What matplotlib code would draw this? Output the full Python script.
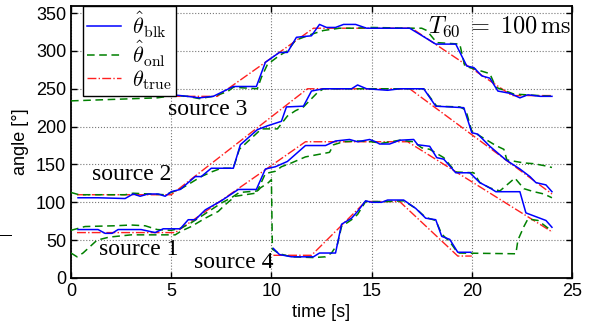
import matplotlib
matplotlib.use('Agg')
import matplotlib.pyplot as plt
from matplotlib.patches import Rectangle

plt.rcParams['font.family'] = ['Liberation Sans', 'DejaVu Sans']
plt.rcParams['mathtext.fontset'] = 'cm'

# block estimate (blue)
t_blk1 = [0.35, 1.35, 1.7, 2.05, 2.35, 3.5, 4.2, 4.6, 5.45, 5.85, 6.2, 6.7, 7.5, 8.35, 9.25, 9.7, 10.2, 10.8, 11.7,
          12.7, 13.2, 13.9, 14.3, 14.9, 15.2, 15.4, 15.9, 16.4, 17.1, 17.3, 17.9, 18.25, 18.6, 19.2, 19.9, 20.4, 20.9,
          21.2, 22.4, 22.7, 23.2, 23.7, 24.0]
v_blk1 = [64, 64, 59, 59, 64, 64, 60, 65, 65, 77, 77, 90, 102, 117, 117, 144, 147, 154, 175,
          175, 181, 183, 180, 183, 180, 177, 177, 182, 183, 176, 174, 159, 157, 139, 139, 126, 119,
          114, 114, 86, 81, 76, 67]

t_blk2 = [0.35, 1.35, 2.7, 3.1, 3.45, 3.85, 4.35, 4.7, 5.0, 5.45, 6.2, 6.5, 7.0, 8.1, 8.45, 9.3, 9.8, 10.5, 10.75,
          11.6, 12.0, 12.6, 14.0, 14.3, 14.75, 15.8, 16.4, 17.6, 18.2, 19.6, 20.0, 20.3, 20.9, 21.7, 22.4, 22.9,
          23.2, 23.7, 24.0]
v_blk2 = [106, 106, 105, 111, 108, 111, 111, 108, 114, 117, 134, 134, 145, 145, 176, 196, 201, 207, 226,
          227, 247, 250, 250, 255, 250, 248, 250, 250, 227, 225, 192, 190, 174, 156, 144, 134,
          126, 123, 114]

t_blk3 = [4.3, 5.1, 5.8, 6.4, 7.1, 8.1, 9.25, 9.7, 10.4, 10.8, 11.25, 12.0, 12.4, 12.75, 13.2, 13.6, 14.2, 14.75,
          16.9, 17.4, 18.2, 19.2, 19.75, 20.1, 20.5, 20.9, 21.3, 21.9, 22.4, 22.8, 23.4, 24.0]
v_blk3 = [240, 242, 240, 238, 240, 253, 253, 285, 298, 298, 318, 320, 335, 331, 331, 335, 335, 330,
          330, 322, 309, 309, 280, 278, 267, 264, 247, 244, 238, 242, 240, 240]

t_blk4 = [10.1, 10.4, 11.0, 12.1, 12.4, 13.2, 13.5, 14.0, 14.3, 14.7, 15.0, 15.5, 15.8, 16.6, 17.2, 17.7, 18.2,
          18.5, 18.9, 19.3, 19.95]
v_blk4 = [39, 31, 28, 28, 33, 33, 71, 79, 88, 102, 100, 100, 103, 103, 92, 79, 77, 55, 51, 34, 34]

# online estimate (green)
t_onl1 = [0, 4.3, 5.1, 5.8, 6.4, 7.1, 7.8, 8.1, 9.3, 9.5, 9.8, 10.4, 10.8, 11.2, 12.0, 12.6, 13.4, 14.2, 15.0,
          16.9, 17.5, 17.75, 18.25, 19.4, 19.65, 20.4, 20.9, 21.2, 22.1, 24.0]
v_onl1 = [234, 238, 241, 240, 237, 240, 246, 252, 250, 265, 282, 294, 300, 314, 322, 327, 330, 330, 331,
          330, 330, 327, 311, 309, 280, 274, 270, 252, 243, 240]

t_onl2 = [0, 0.4, 2.7, 3.1, 4.7, 5.0, 5.5, 6.0, 6.5, 7.0, 7.5, 8.1, 8.4, 9.3, 9.5, 10.3, 10.8, 11.2, 11.6, 12.3,
          12.6, 14.0, 15.8, 17.6, 18.25, 19.4, 19.7, 20.0, 20.7, 21.2, 21.6, 21.75, 22.6, 23.1, 23.7, 24.0]
v_onl2 = [113, 110, 110, 112, 110, 113, 118, 126, 134, 140, 145, 145, 170, 192, 197, 197, 214, 221, 226, 245,
          250, 250, 250, 250, 227, 226, 222, 194, 183, 175, 170, 156, 152, 151, 148, 146]

t_onl3 = [0, 0.7, 2.2, 3.0, 3.7, 4.3, 5.0, 5.5, 6.0, 6.7, 7.5, 8.0, 8.4, 9.3, 9.7, 10.2, 10.5, 11.0, 11.7, 12.3,
          12.9, 13.1, 13.6, 14.3, 15.0, 15.5, 16.4, 17.1, 17.5, 17.9, 18.6, 19.2, 20.1, 20.4, 20.9, 21.4, 22.15,
          22.6, 23.1, 23.6, 24.0]
v_onl3 = [63, 68, 69, 70, 69, 64, 63, 66, 73, 85, 99, 106, 113, 115, 138, 141, 147, 152, 160, 163,
          166, 176, 180, 181, 180, 178, 182, 180, 172, 170, 159, 140, 139, 126, 119, 115, 132,
          118, 114, 111, 106]

t_onl4 = [0, 0.3, 0.6, 1.3, 1.9, 3.0, 4.0, 5.2, 5.5, 6.0, 6.7, 7.35, 7.7, 8.2, 9.2, 9.45, 9.85, 10.0, 10.05,
          10.4, 11.0, 12.1, 12.7, 13.0, 13.3, 13.5, 14.0, 14.3, 14.7, 15.7, 16.6, 17.2, 17.7, 18.2, 18.5, 18.9,
          19.3, 22.2, 22.3, 22.6, 22.8, 23.3, 24.0]
v_onl4 = [33, 28, 33, 50, 54, 57, 57, 57, 62, 68, 79, 88, 97, 108, 112, 119, 126, 130, 38,
          32, 28, 27, 28, 33, 45, 68, 77, 84, 101, 101, 102, 92, 80, 76, 58, 48,
          33, 32, 50, 68, 78, 76, 62]

# ground truth (red)
t_true1 = [0.3, 5.2, 11.7, 16.8, 24.0]
v_true1 = [60, 60, 180, 180, 61]
t_true2 = [0.3, 5.0, 11.8, 16.9, 24.0]
v_true2 = [110, 110, 250, 250, 111]
t_true3 = [4.3, 7.3, 12.1, 17.0, 22.0, 24.0]
v_true3 = [240, 240, 330, 330, 241, 241]
t_true4 = [10.1, 12.0, 14.7, 16.4, 19.3, 20.0]
v_true4 = [30, 30, 101, 101, 29, 29]

blk = [(t_blk1, v_blk1), (t_blk2, v_blk2), (t_blk3, v_blk3), (t_blk4, v_blk4)]
onl = [(t_onl1, v_onl1), (t_onl2, v_onl2), (t_onl3, v_onl3), (t_onl4, v_onl4)]
true = [(t_true1, v_true1), (t_true2, v_true2), (t_true3, v_true3), (t_true4, v_true4)]

fig = plt.figure(figsize=(5.95, 3.27), dpi=100)
ax = fig.add_axes([71 / 595, 1 - 278 / 327, 501 / 595, 272.5 / 327])

for i, (t, v) in enumerate(true):
    ax.plot(t, v, color='#ff2020', ls='-.', lw=1.0, label=r'$\theta_{\mathrm{true}}$' if i == 0 else None, zorder=2)
for i, (t, v) in enumerate(onl):
    ax.plot(t, v, color='#008000', ls=(0, (5, 3)), lw=1.1, label=r'$\hat{\theta}_{\mathrm{onl}}$' if i == 0 else None, zorder=3)
for i, (t, v) in enumerate(blk):
    ax.plot(t, v, color='#0000ff', lw=1.1, label=r'$\hat{\theta}_{\mathrm{blk}}$' if i == 0 else None, zorder=4)

ax.set_xlim(0, 25)
ax.set_ylim(0, 360)
ax.set_xticks(range(0, 26, 5))
ax.set_yticks(range(0, 351, 50))
ax.tick_params(direction='in', top=True, right=True, labelsize=13, length=4, width=1)
ax.grid(True, ls=':', color='#777777', lw=0.8)
for s in ax.spines.values():
    s.set_linewidth(1.3)

ax.set_xlabel('time [s]', fontsize=13, labelpad=3)
ax.set_ylabel('angle [°]', fontsize=13, labelpad=5)

# source labels
serif = ['Liberation Serif', 'DejaVu Serif']
ax.text(6.8, 223, 'source 3', fontsize=17, family=serif, ha='center', va='center')
ax.text(3.05, 137, 'source 2', fontsize=17, family=serif, ha='center', va='center')
ax.text(3.4, 37, 'source 1', fontsize=17, family=serif, ha='center', va='center')
ax.text(8.1, 20, 'source 4', fontsize=17, family=serif, ha='center', va='center')

ax.text(0.997, 0.965, r'$T_{60} \;=\; 100\,\mathrm{ms}$', fontsize=17.5, ha='right', va='top', transform=ax.transAxes)

handles, labels = ax.get_legend_handles_labels()
order = [2, 1, 0]
leg = ax.legend([handles[k] for k in order], [labels[k] for k in order], loc='upper left',
                bbox_to_anchor=(12 / 501, 1.0), borderaxespad=0, fontsize=16, handlelength=1.5,
                labelspacing=-0.05, borderpad=0.2, handletextpad=0.5, fancybox=False, framealpha=1)
leg.get_frame().set_edgecolor('black')
leg.get_frame().set_linewidth(1.0)

# stray tick mark at the left border
fig.add_artist(Rectangle((0, 1 - 236 / 327), 12 / 595, 1.5 / 327, facecolor='black', edgecolor='none',
                         transform=fig.transFigure))

fig.savefig('out.png', dpi=100)
